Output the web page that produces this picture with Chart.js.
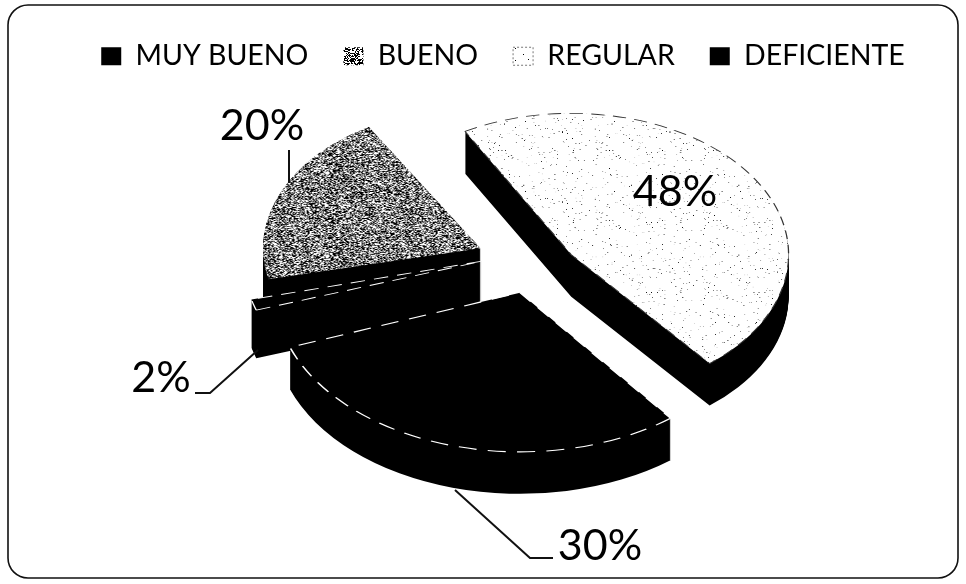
<!DOCTYPE html>
<html>
<head>
<meta charset="utf-8">
<script src="https://cdn.jsdelivr.net/npm/chart.js@4"></script>
<style>
  body { margin: 0; background: #fff; }
  canvas { display: block; }
</style>
</head>
<body>
<canvas id="chart" width="966" height="584"></canvas>
<script>
// datos
const categorias = ["MUY BUENO", "BUENO", "REGULAR", "DEFICIENTE"];
const porcentajes = [2, 20, 48, 30];

// textura de escaneo, densidad de puntos oscuros
function trama(densidad) {
    const c = document.createElement("canvas");
    c.width = c.height = 128;
    const g = c.getContext("2d");
    g.fillStyle = "#fff";
    g.fillRect(0, 0, 128, 128);
    g.fillStyle = "#000";
    for (let y = 0; y < 128; y++) {
        for (let x = 0; x < 128; x++) {
            const h = Math.sin(x * 12.9898 + y * 78.233) * 43758.5453;
            if (h - Math.floor(h) < densidad) g.fillRect(x, y, 1, 1);
        }
    }
    return g.createPattern(c, "repeat");
}

const ctx = document.getElementById("chart").getContext("2d");

const colores = ["#000", trama(0.5), trama(0.012), "#000"];
const bordes = ["#fff", "rgba(0,0,0,0)", "#333", "#fff"];

// ajustes del pastel en perspectiva
const centro = { x: 530, y: 262 };
const aplastado = 0.65;
const grosor = [48, 60, 42, 42];
const escalaPorcion = [0.92, 1.0, 0.84, 1.13];
const ajusteY = [-10, 0, 11, 8];
const ordenDibujo = [1, 0, 2, 3];

// etiquetas y guias
const etiquetas = [
    { texto: porcentajes[1] + "%", x: 262, y: 126, guia: [[289, 150], [289, 183]] },
    { texto: porcentajes[2] + "%", x: 675, y: 192, guia: [] },
    { texto: porcentajes[0] + "%", x: 161, y: 378, guia: [[195, 393], [210, 393], [258, 350]] },
    { texto: porcentajes[3] + "%", x: 600, y: 546, guia: [[455, 490], [530, 558], [553, 558]] }
];

const pastel3d = {
    id: "pastel3d",
    beforeDraw(chart) {
        const c = chart.ctx;
        c.save();
        c.strokeStyle = "#111";
        c.lineWidth = 1.6;
        c.beginPath();
        c.roundRect(8, 5, 950, 573, 20);
        c.stroke();
        c.restore();
    },
    beforeDatasetsDraw(chart) {
        const c = chart.ctx;
        const arcos = chart.getDatasetMeta(0).data;
        ordenDibujo.forEach(i => {
            const arco = arcos[i];
            const k = escalaPorcion[i];
            const medio = (arco.startAngle + arco.endAngle) / 2;
            const d = (arco.options.offset || 0) / 4;
            const ax = arco.x + Math.cos(medio) * d;
            const ay = arco.y + Math.sin(medio) * d;
            const lado = Object.create(arco);
            lado.options = { ...arco.options, backgroundColor: "#000", borderWidth: 0 };

            const colocar = dy => {
                c.translate(centro.x, centro.y + ajusteY[i] + dy);
                c.scale(1, aplastado);
                c.translate(-arco.x, -arco.y);
                c.translate(ax, ay);
                c.scale(k, k);
                c.translate(-ax, -ay);
            };
            for (let dy = grosor[i]; dy > 0; dy -= 1) {
                c.save();
                colocar(dy);
                lado.draw(c);
                c.restore();
            }
            c.save();
            colocar(0);
            arco.draw(c);
            c.restore();
        });
        return false;
    },
    afterDraw(chart) {
        const c = chart.ctx;
        c.save();
        c.fillStyle = "#000";
        c.strokeStyle = "#111";
        c.lineWidth = 2;
        c.font = "43px Lato";
        c.textAlign = "center";
        c.textBaseline = "middle";
        etiquetas.forEach(e => {
            c.fillText(e.texto, e.x, e.y);
            if (e.guia.length) {
                c.beginPath();
                e.guia.forEach((p, i) => i ? c.lineTo(p[0], p[1]) : c.moveTo(p[0], p[1]));
                c.stroke();
            }
        });
        c.restore();
    }
};

new Chart(ctx, {
    type: "pie",
    data: {
        labels: categorias,
        datasets: [{
            data: porcentajes,
            backgroundColor: colores,
            borderColor: bordes,
            borderWidth: 1.5,
            borderDash: [16, 10],
            offset: [200, 215, 200, 145]
        }]
    },
    options: {
        responsive: false,
        animation: false,
        rotation: 250,
        radius: 215,
        layout: { padding: { top: 7, left: 40 } },
        plugins: {
            tooltip: { enabled: false },
            legend: {
                position: "top",
                labels: {
                    color: "#000",
                    font: { family: "Lato", size: 28.5 },
                    boxWidth: 20,
                    boxHeight: 18,
                    padding: 35,
                    // sin el borde punteado de las porciones
                    generateLabels(chart) {
                        const base = Chart.overrides.pie.plugins.legend.labels.generateLabels(chart);
                        return base.map((l, i) => ({
                            ...l,
                            strokeStyle: i === 2 ? "#777" : "#000",
                            lineWidth: i === 2 ? 1 : 0,
                            lineDash: i === 2 ? [2, 2] : []
                        }));
                    }
                }
            }
        }
    },
    plugins: [pastel3d]
});
</script>
</body>
</html>
